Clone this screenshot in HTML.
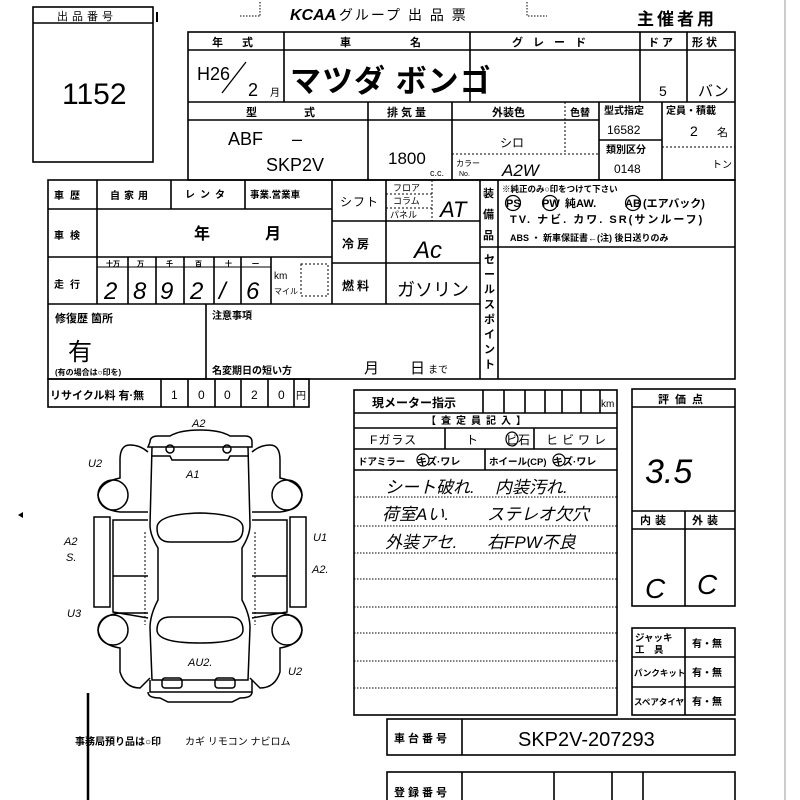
<!DOCTYPE html>
<html><head><meta charset="utf-8"><style>
html,body{margin:0;padding:0;background:#fff;width:800px;height:800px;overflow:hidden}
svg{display:block}
text{font-family:"Liberation Sans","Noto Sans CJK JP",sans-serif;fill:#000}
.b{font-weight:bold}
</style></head><body>
<svg width="800" height="800" viewBox="0 0 800 800" xmlns="http://www.w3.org/2000/svg">
<g stroke="#000" stroke-width="1.6" fill="none">
<rect x="33" y="7" width="120" height="155"/>
<line x1="33" y1="23" x2="153" y2="23"/>
<line x1="157" y1="12" x2="157" y2="22" stroke-width="2"/>
<path d="M260 2 V16 M240 16 H260 M527 2 V16 H547" stroke-width="1" stroke-dasharray="1.5 1.5"/>
<rect x="188" y="32" width="547" height="148"/>
<line x1="188" y1="50" x2="735" y2="50"/>
<line x1="188" y1="102" x2="735" y2="102"/>
<line x1="188" y1="120" x2="599" y2="120"/>
<line x1="284" y1="32" x2="284" y2="102"/>
<line x1="470" y1="32" x2="470" y2="102"/>
<line x1="640" y1="32" x2="640" y2="102"/>
<line x1="687" y1="32" x2="687" y2="102"/>
<line x1="368" y1="102" x2="368" y2="180"/>
<line x1="452" y1="102" x2="452" y2="180"/>
<line x1="599" y1="102" x2="599" y2="180"/>
<line x1="662" y1="102" x2="662" y2="180"/>
<line x1="599" y1="140" x2="662" y2="140"/>
<line x1="565" y1="102" x2="565" y2="154" stroke-width="1" stroke-dasharray="2 2"/>
<line x1="452" y1="154" x2="599" y2="154" stroke-width="1" stroke-dasharray="2 2"/>
<line x1="662" y1="147" x2="735" y2="147" stroke-width="1" stroke-dasharray="2 2"/>
<rect x="48" y="180" width="687" height="199"/>
<line x1="48" y1="209" x2="332" y2="209"/>
<line x1="48" y1="257" x2="332" y2="257"/>
<line x1="48" y1="304" x2="480" y2="304"/>
<line x1="97" y1="180" x2="97" y2="304"/>
<line x1="171" y1="180" x2="171" y2="209"/>
<line x1="245" y1="180" x2="245" y2="209"/>
<line x1="332" y1="180" x2="332" y2="304"/>
<line x1="128" y1="257" x2="128" y2="304"/>
<line x1="156" y1="257" x2="156" y2="304"/>
<line x1="184" y1="257" x2="184" y2="304"/>
<line x1="214" y1="257" x2="214" y2="304"/>
<line x1="241" y1="257" x2="241" y2="304"/>
<line x1="271" y1="257" x2="271" y2="304"/>
<line x1="97" y1="267" x2="271" y2="267" stroke-width="1"/>
<rect x="301" y="264" width="27" height="32" stroke-width="1" stroke-dasharray="2 2"/>
<line x1="332" y1="221" x2="480" y2="221"/>
<line x1="332" y1="263" x2="480" y2="263"/>
<line x1="386" y1="180" x2="386" y2="304"/>
<line x1="432" y1="180" x2="432" y2="221" stroke-width="1" stroke-dasharray="2 2"/>
<line x1="386" y1="194" x2="432" y2="194" stroke-width="1" stroke-dasharray="2 2"/>
<line x1="386" y1="208" x2="432" y2="208" stroke-width="1" stroke-dasharray="2 2"/>
<line x1="480" y1="180" x2="480" y2="379"/>
<line x1="498" y1="180" x2="498" y2="379"/>
<line x1="498" y1="247" x2="735" y2="247"/>
<line x1="480" y1="247" x2="498" y2="247"/>
<line x1="206" y1="304" x2="206" y2="379"/>
<rect x="48" y="379" width="261" height="28"/>
<line x1="161" y1="379" x2="161" y2="407"/>
<line x1="188" y1="379" x2="188" y2="407"/>
<line x1="215" y1="379" x2="215" y2="407"/>
<line x1="241" y1="379" x2="241" y2="407"/>
<line x1="268" y1="379" x2="268" y2="407"/>
<line x1="294" y1="379" x2="294" y2="407"/>
<rect x="354" y="390" width="263" height="325"/>
<line x1="354" y1="413" x2="617" y2="413"/>
<line x1="354" y1="428" x2="617" y2="428"/>
<line x1="354" y1="449" x2="617" y2="449"/>
<line x1="354" y1="470" x2="617" y2="470"/>
<line x1="445" y1="428" x2="445" y2="449"/>
<line x1="534" y1="428" x2="534" y2="449"/>
<line x1="485" y1="449" x2="485" y2="470"/>
<path d="M483 390V413M504 390V413M525 390V413M545 390V413M562 390V413M581 390V413M600 390V413"/>
<g stroke-width="1" stroke-dasharray="1.5 1.5">
<line x1="354" y1="497" x2="617" y2="497"/><line x1="354" y1="526" x2="617" y2="526"/>
<line x1="354" y1="553" x2="617" y2="553"/><line x1="354" y1="579" x2="617" y2="579"/>
<line x1="354" y1="607" x2="617" y2="607"/><line x1="354" y1="633" x2="617" y2="633"/>
<line x1="354" y1="661" x2="617" y2="661"/><line x1="354" y1="688" x2="617" y2="688"/>
</g>
<rect x="632" y="389" width="103" height="217"/>
<line x1="632" y1="407" x2="735" y2="407"/>
<line x1="632" y1="511" x2="735" y2="511"/>
<line x1="632" y1="529" x2="735" y2="529"/>
<line x1="685" y1="511" x2="685" y2="606"/>
<rect x="632" y="628" width="103" height="87"/>
<line x1="632" y1="657" x2="735" y2="657"/>
<line x1="632" y1="687" x2="735" y2="687"/>
<line x1="685" y1="628" x2="685" y2="715"/>
<rect x="387" y="719" width="348" height="36"/>
<line x1="462" y1="719" x2="462" y2="755"/>
<rect x="387" y="772" width="348" height="40"/>
<line x1="462" y1="772" x2="462" y2="800"/>
<line x1="554" y1="772" x2="554" y2="800"/>
<line x1="612" y1="772" x2="612" y2="800"/>
<line x1="643" y1="772" x2="643" y2="800"/>
<line x1="88" y1="693" x2="88" y2="800" stroke-width="2.5"/>
<line x1="785" y1="0" x2="785" y2="800" stroke="#999" stroke-width="1"/>
<circle cx="513" cy="203" r="7.5" stroke-width="1.2"/>
<circle cx="550" cy="203" r="7.5" stroke-width="1.2"/>
<circle cx="633" cy="203" r="7.5" stroke-width="1.2"/>
<ellipse cx="512" cy="439" rx="6" ry="7" stroke-width="1.2"/>
<ellipse cx="423" cy="460" rx="6" ry="6" stroke-width="1.2"/>
<ellipse cx="559" cy="460" rx="6" ry="6" stroke-width="1.2"/>
<g stroke-width="1.5">
<path d="M150 442 Q150 436 158 436 L170 436 Q180 430 200 430 Q220 430 230 436 L245 436 Q252 436 252 442 L252 447 L148 447 Z"/>
<path d="M152 447 L150 525 Q150 535 158 548 L158 600 Q150 615 150 628 L152 680 L248 680 L250 628 Q250 615 242 600 L242 548 Q250 535 250 525 L248 447"/>
<circle cx="170" cy="449" r="4"/><circle cx="227" cy="449" r="4"/>
<path d="M152 456 L170 456 L172 460 L228 460 L230 456 L248 456"/>
<path d="M157 528 Q157 514 200 513 Q243 514 243 528 Q243 542 230 542 L170 542 Q157 542 157 528 Z"/>
<path d="M157 630 Q157 617 170 617 L230 617 Q243 617 243 630 Q243 643 200 643 Q157 643 157 630 Z"/>
<path d="M150 680 L150 692 L252 692 L252 680"/>
<path d="M148 692 Q148 698 160 698 L168 702 L232 702 L240 698 Q252 698 252 692"/>
<rect x="162" y="678" width="20" height="10" rx="3"/><rect x="215" y="678" width="20" height="10" rx="3"/>
<path d="M148 452 Q140 445 130 445 Q120 445 120 460 L120 478 Q100 482 98 495 Q100 510 120 512 L148 512"/>
<path d="M252 452 Q260 445 270 445 Q280 445 280 460 L280 478 Q300 482 302 495 Q300 510 280 512 L252 512"/>
<path d="M148 613 L120 613 Q100 615 98 630 Q100 645 120 648 L120 672 Q125 688 140 688 L150 678"/>
<path d="M252 613 L280 613 Q300 615 302 630 Q300 645 280 648 L280 672 Q275 688 260 688 L250 678"/>
<circle cx="113" cy="495" r="15"/><circle cx="287" cy="495" r="15"/>
<circle cx="113" cy="630" r="15"/><circle cx="287" cy="630" r="15"/>
<rect x="94" y="517" width="16" height="90"/><rect x="290" y="517" width="16" height="90"/>
<path d="M148 520 L113 520 L113 612 L148 618"/><path d="M252 520 L287 520 L287 612 L252 618"/>
<line x1="113" y1="576" x2="148" y2="576"/><line x1="252" y1="576" x2="287" y2="576"/>
<path d="M145 532 L145 625 M255 532 L255 625" stroke-width="1" stroke-dasharray="2 2"/>
</g>
</g>
<g fill="#000"><polygon points="18,515 23,512 23,518"/></g>

<text x="57" y="20" font-size="11" letter-spacing="4">出品番号</text>
<text x="62" y="104" font-size="30">1152</text>
<text x="290" y="20" font-size="16" class="b" font-style="italic">KCAA</text>
<text x="333" y="20" font-size="14" letter-spacing="2">.グループ 出 品 票</text>
<text x="637" y="25" font-size="17" class="b" letter-spacing="3">主催者用</text>

<text x="212" y="46" font-size="11" class="b" letter-spacing="8">年 式</text>
<text x="340" y="46" font-size="11" class="b">車</text><text x="410" y="46" font-size="11" class="b">名</text>
<text x="512" y="46" font-size="11" class="b" letter-spacing="10">グレード</text>
<text x="648" y="46" font-size="11" class="b">ド ア</text><text x="692" y="46" font-size="11" class="b">形 状</text>
<text x="197" y="80" font-size="18">H26</text>
<line x1="222" y1="93" x2="246" y2="62" stroke="#000" stroke-width="1.3"/>
<text x="248" y="96" font-size="18">2</text><text x="270" y="96" font-size="10">月</text>
<text x="290" y="92" font-size="31" class="b" letter-spacing="1">マツダ ボンゴ</text>
<text x="659" y="96" font-size="14">5</text><text x="698" y="96" font-size="15">バン</text>

<text x="246" y="116" font-size="11" class="b">型</text><text x="304" y="116" font-size="11" class="b">式</text>
<text x="387" y="116" font-size="11" class="b" letter-spacing="3">排気量</text>
<text x="492" y="116" font-size="11" class="b">外装色</text><text x="570" y="116" font-size="10" class="b">色替</text>
<text x="604" y="114" font-size="10" class="b">型式指定</text>
<text x="666" y="114" font-size="10" class="b">定員・積載</text>
<text x="228" y="145" font-size="18">ABF</text><text x="292" y="145" font-size="18">–</text>
<text x="266" y="171" font-size="18">SKP2V</text>
<text x="388" y="164" font-size="17">1800</text><text x="430" y="176" font-size="9">c.c.</text>
<text x="500" y="147" font-size="12">シロ</text>
<text x="456" y="166" font-size="8">カラー</text><text x="459" y="176" font-size="7">No.</text>
<text x="502" y="176" font-size="17" font-style="italic">A2W</text>
<text x="607" y="134" font-size="12">16582</text>
<text x="606" y="153" font-size="10" class="b">類別区分</text>
<text x="614" y="173" font-size="12">0148</text>
<text x="690" y="136" font-size="14">2</text><text x="717" y="136" font-size="11">名</text>
<text x="712" y="168" font-size="10">トン</text>

<text x="54" y="199" font-size="10" class="b" letter-spacing="6">車歴</text>
<text x="110" y="199" font-size="10" class="b" letter-spacing="4">自家用</text>
<text x="185" y="198" font-size="10" class="b" letter-spacing="5">レンタ</text>
<text x="250" y="198" font-size="9.5" class="b">事業.営業車</text>
<text x="340" y="206" font-size="12" letter-spacing="1">シフト</text>
<text x="393" y="191" font-size="9">フロア</text><text x="393" y="204" font-size="9">コラム</text><text x="390" y="218" font-size="9">パネル</text>
<text x="440" y="217" font-size="22" font-style="italic">AT</text>
<text x="54" y="239" font-size="10" class="b" letter-spacing="6">車検</text>
<text x="194" y="239" font-size="16" class="b">年</text><text x="265" y="239" font-size="16" class="b">月</text>
<text x="342" y="248" font-size="12" class="b" letter-spacing="3">冷房</text>
<text x="414" y="258" font-size="24" font-style="italic">Ac</text>
<text x="54" y="288" font-size="10" class="b" letter-spacing="6">走行</text>
<g font-size="7" class="b"><text x="106" y="266">十万</text><text x="137" y="266">万</text><text x="166" y="266">千</text><text x="195" y="266">百</text><text x="225" y="266">十</text><text x="252" y="266">一</text></g>
<g font-size="24" font-style="italic"><text x="104" y="299">2</text><text x="133" y="299">8</text><text x="160" y="299">9</text><text x="190" y="299">2</text><text x="219" y="299">/</text><text x="246" y="299">6</text></g>
<text x="274" y="279" font-size="10">km</text><text x="274" y="294" font-size="8">マイル</text>
<text x="342" y="290" font-size="12" class="b" letter-spacing="3">燃料</text>
<text x="397" y="296" font-size="18">ガソリン</text>
<text x="483" y="197" font-size="11" class="b">装</text><text x="483" y="218" font-size="11" class="b">備</text><text x="483" y="239" font-size="11" class="b">品</text>
<text x="502" y="192" font-size="8.5" class="b">※純正のみ○印をつけて下さい</text>
<g font-size="11" class="b"><text x="506" y="207">PS</text><text x="542" y="207">PW</text><text x="565" y="207">純AW.</text><text x="625" y="207">AB</text><text x="643" y="207">(エアバック)</text></g>
<text x="510" y="223" font-size="11" class="b" letter-spacing="2">TV. ナビ. カワ. SR(サンルーフ)</text>
<text x="510" y="241" font-size="9" class="b">ABS ・ 新車保証書←(注) 後日送りのみ</text>
<g font-size="11" class="b"><text x="484" y="263">セ</text><text x="484" y="278">ー</text><text x="484" y="293">ル</text><text x="484" y="308">ス</text><text x="484" y="323">ポ</text><text x="484" y="338">イ</text><text x="484" y="353">ン</text><text x="484" y="368">ト</text></g>
<text x="55" y="322" font-size="11" class="b">修復歴 箇所</text>
<text x="68" y="360" font-size="24">有</text>
<text x="55" y="375" font-size="8" class="b">(有の場合は○印を)</text>
<text x="212" y="319" font-size="10" class="b">注意事項</text>
<text x="212" y="374" font-size="10" class="b">名変期日の短い方</text>
<text x="364" y="373" font-size="15">月</text><text x="410" y="373" font-size="15">日</text><text x="428" y="373" font-size="10">まで</text>

<text x="50" y="399" font-size="11" class="b">リサイクル料 有·無</text>
<g font-size="12"><text x="171" y="399">1</text><text x="198" y="399">0</text><text x="224" y="399">0</text><text x="251" y="399">2</text><text x="278" y="399">0</text><text x="296" y="399" font-size="10">円</text></g>

<text x="372" y="407" font-size="12" class="b">現メーター指示</text>
<text x="601" y="407" font-size="10">km</text>
<text x="426" y="424" font-size="10" class="b" letter-spacing="5">【査定員記入】</text>
<text x="370" y="444" font-size="12" letter-spacing="1">Fガラス</text>
<text x="466" y="444" font-size="12">ト</text><text x="506" y="444" font-size="12">ビ</text><text x="518" y="444" font-size="12">石</text>
<text x="546" y="444" font-size="12" letter-spacing="4">ヒビワレ</text>
<text x="358" y="465" font-size="9.5" class="b">ドアミラー</text><text x="417" y="465" font-size="10" class="b">キズ·ワレ</text>
<text x="489" y="465" font-size="9.5" class="b">ホイール(CP)</text><text x="553" y="465" font-size="10" class="b">キズ·ワレ</text>
<g font-size="17" font-style="italic"><text x="385" y="493">シート破れ.</text><text x="495" y="493">内装汚れ.</text>
<text x="382" y="520">荷室Aい.</text><text x="487" y="520">ステレオ欠穴</text>
<text x="385" y="548">外装アセ.</text><text x="487" y="548">右FPW不良</text></g>
<text x="658" y="403" font-size="11" class="b" letter-spacing="6">評価点</text>
<text x="645" y="483" font-size="34" font-style="italic">3.5</text>
<text x="640" y="524" font-size="11" class="b" letter-spacing="4">内装</text>
<text x="692" y="524" font-size="11" class="b" letter-spacing="4">外装</text>
<text x="645" y="598" font-size="28" font-style="italic">C</text><text x="697" y="594" font-size="28" font-style="italic">C</text>
<text x="635" y="641" font-size="9.5" class="b">ジャッキ</text><text x="635" y="653" font-size="9.5" class="b">工　具</text>
<text x="634" y="676" font-size="8.5" class="b">パンクキット</text>
<text x="634" y="705" font-size="8.5" class="b">スペアタイヤ</text>
<g font-size="10" class="b"><text x="692" y="647">有・無</text><text x="692" y="676">有・無</text><text x="692" y="705">有・無</text></g>
<text x="394" y="742" font-size="11" class="b" letter-spacing="3">車台番号</text>
<text x="518" y="746" font-size="20">SKP2V-207293</text>
<text x="394" y="796" font-size="11" class="b" letter-spacing="3">登録番号</text>
<text x="75" y="745" font-size="10" class="b">事務局預り品は○印</text>
<text x="185" y="745" font-size="10">カギ リモコン ナビロム</text>

<g font-size="11" font-style="italic">
<text x="192" y="427">A2</text><text x="186" y="478">A1</text><text x="88" y="467">U2</text>
<text x="64" y="545">A2</text><text x="66" y="561">S.</text><text x="313" y="541">U1</text>
<text x="312" y="573">A2.</text><text x="67" y="617">U3</text>
<text x="188" y="666">AU2.</text><text x="288" y="675">U2</text></g>
</svg>
</body></html>
